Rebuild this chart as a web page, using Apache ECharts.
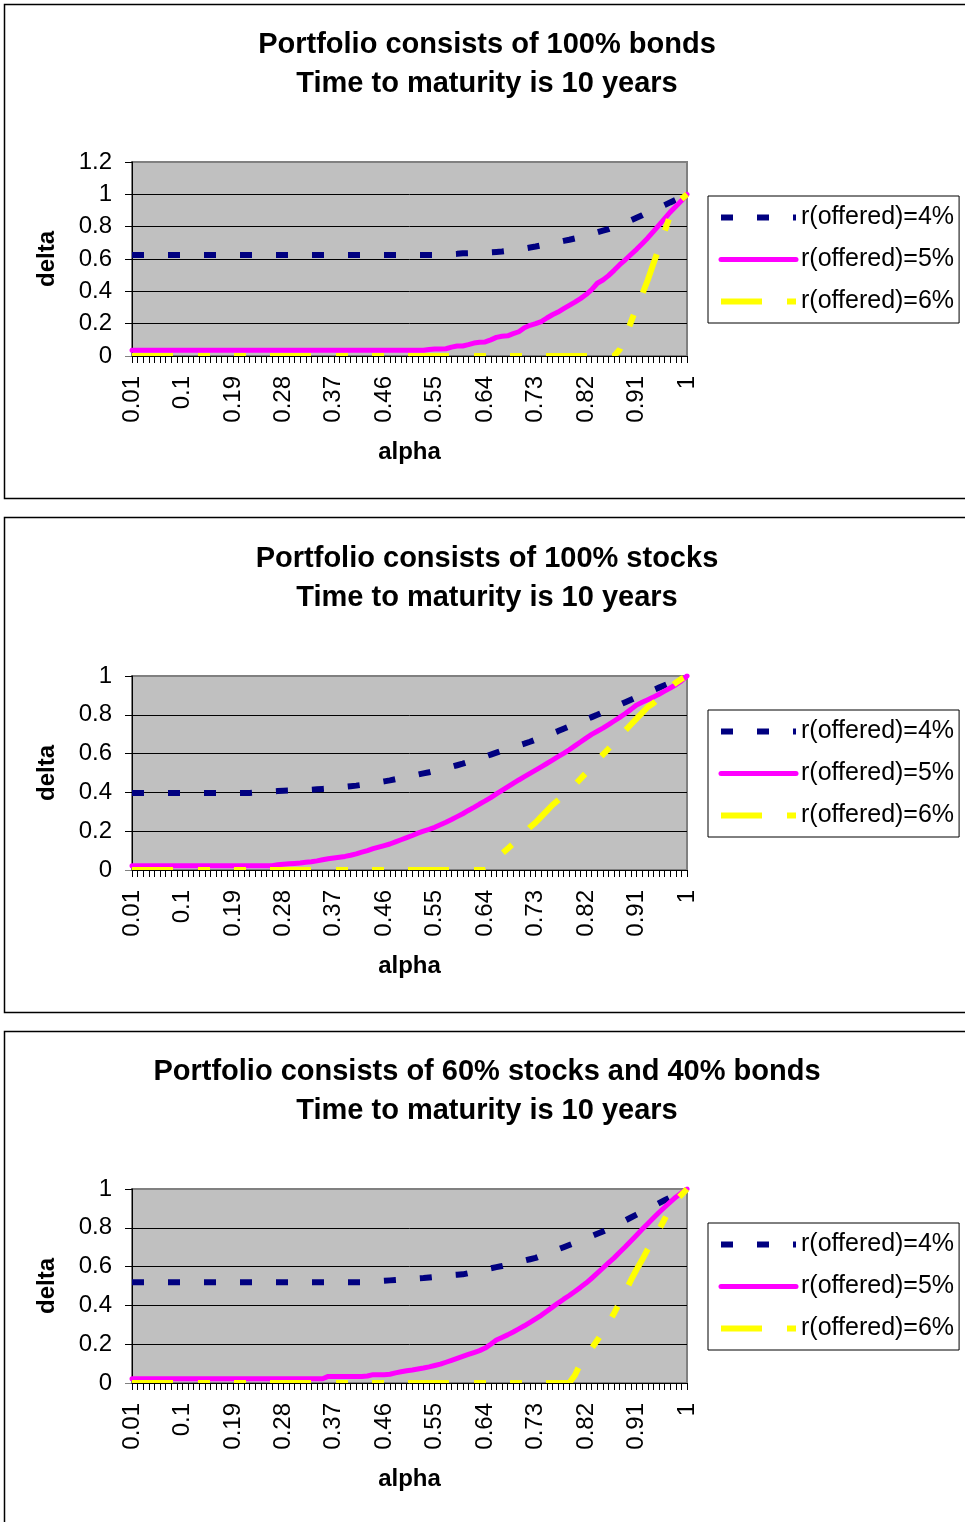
<!DOCTYPE html>
<html>
<head>
<meta charset="utf-8">
<script src="https://cdn.jsdelivr.net/npm/echarts@6/dist/echarts.min.js"></script>
<style>
html,body{margin:0;padding:0;background:#fff;}
#chart{width:965px;height:1522px;}
</style>
</head>
<body>
<div id="chart"></div>
<script>
// ---- categories (alpha) ----
const alpha = [
0.01,0.02,0.03,0.04,0.05,0.06,0.07,0.08,0.09,0.1,
0.11,0.12,0.13,0.14,0.15,0.16,0.17,0.18,0.19,0.2,
0.21,0.22,0.23,0.24,0.25,0.26,0.27,0.28,0.29,0.3,
0.31,0.32,0.33,0.34,0.35,0.36,0.37,0.38,0.39,0.4,
0.41,0.42,0.43,0.44,0.45,0.46,0.47,0.48,0.49,0.5,
0.51,0.52,0.53,0.54,0.55,0.56,0.57,0.58,0.59,0.6,
0.61,0.62,0.63,0.64,0.65,0.66,0.67,0.68,0.69,0.7,
0.71,0.72,0.73,0.74,0.75,0.76,0.77,0.78,0.79,0.8,
0.81,0.82,0.83,0.84,0.85,0.86,0.87,0.88,0.89,0.9,
0.91,0.92,0.93,0.94,0.95,0.96,0.97,0.98,0.99,1
];
const seriesNames = ['r(offered)=4%', 'r(offered)=5%', 'r(offered)=6%'];
const titles = [
  'Portfolio consists of 100% bonds\nTime to maturity is 10 years',
  'Portfolio consists of 100% stocks\nTime to maturity is 10 years',
  'Portfolio consists of 60% stocks and 40% bonds\nTime to maturity is 10 years'
];
const yMax = [1.2, 1, 1];

// ---- Panel 1: 100% bonds ----
const bonds4 = [
0.624,0.624,0.624,0.624,0.624,0.624,0.624,0.624,0.624,0.624,
0.624,0.624,0.624,0.624,0.624,0.624,0.624,0.624,0.624,0.624,
0.624,0.624,0.624,0.624,0.624,0.624,0.624,0.624,0.624,0.624,
0.624,0.624,0.624,0.624,0.624,0.624,0.624,0.624,0.624,0.624,
0.624,0.624,0.624,0.624,0.624,0.624,0.624,0.624,0.624,0.624,
0.624,0.624,0.624,0.624,0.624,0.626,0.628,0.630,0.632,0.635,
0.636,0.638,0.639,0.641,0.642,0.644,0.646,0.650,0.655,0.660,
0.665,0.671,0.677,0.684,0.691,0.698,0.705,0.712,0.719,0.727,
0.736,0.745,0.755,0.765,0.775,0.785,0.798,0.812,0.826,0.840,
0.855,0.870,0.886,0.901,0.917,0.933,0.950,0.966,0.983,1.000
];
const bonds5 = [
0.035,0.035,0.035,0.035,0.035,0.035,0.035,0.035,0.035,0.035,
0.035,0.035,0.035,0.035,0.035,0.035,0.035,0.035,0.035,0.035,
0.035,0.035,0.035,0.035,0.035,0.035,0.035,0.035,0.035,0.035,
0.035,0.035,0.035,0.035,0.035,0.035,0.035,0.035,0.035,0.035,
0.035,0.035,0.035,0.035,0.035,0.035,0.035,0.035,0.035,0.035,
0.035,0.035,0.035,0.040,0.043,0.043,0.045,0.055,0.062,0.062,
0.070,0.080,0.085,0.087,0.100,0.115,0.122,0.125,0.138,0.150,
0.175,0.190,0.200,0.213,0.235,0.255,0.272,0.293,0.313,0.333,
0.355,0.380,0.410,0.450,0.470,0.497,0.530,0.565,0.595,0.628,
0.660,0.695,0.730,0.770,0.810,0.850,0.890,0.925,0.960,1.000
];
const bonds6 = [
0,0,0,0,0,0,0,0,0,0,
0,0,0,0,0,0,0,0,0,0,
0,0,0,0,0,0,0,0,0,0,
0,0,0,0,0,0,0,0,0,0,
0,0,0,0,0,0,0,0,0,0,
0,0,0,0,0,0,0,0,0,0,
0,0,0,0,0,0,0,0,0,0,
0,0,0,0,0,0,0,0,0,0,
0,0,0,0,0,0,0,0.04,0.12,0.21,
0.30,0.38,0.47,0.57,0.67,0.77,0.87,0.93,0.97,1.00
];

// ---- Panel 2: 100% stocks ----
const stocks4 = [
0.397,0.397,0.397,0.397,0.397,0.397,0.397,0.397,0.397,0.397,
0.397,0.397,0.397,0.397,0.397,0.397,0.397,0.397,0.397,0.397,
0.397,0.397,0.399,0.401,0.403,0.405,0.407,0.409,0.410,0.411,
0.412,0.413,0.414,0.416,0.418,0.420,0.423,0.426,0.429,0.432,
0.435,0.439,0.443,0.447,0.452,0.457,0.462,0.468,0.474,0.480,
0.486,0.492,0.498,0.504,0.511,0.518,0.525,0.532,0.540,0.548,
0.557,0.566,0.575,0.585,0.595,0.605,0.615,0.624,0.633,0.642,
0.651,0.661,0.672,0.683,0.694,0.705,0.716,0.728,0.740,0.752,
0.764,0.776,0.788,0.800,0.813,0.826,0.839,0.852,0.865,0.878,
0.891,0.904,0.916,0.928,0.940,0.952,0.964,0.976,0.988,1.000
];
const stocks5 = [
0.022,0.022,0.022,0.022,0.022,0.022,0.022,0.022,0.022,0.022,
0.022,0.022,0.022,0.022,0.022,0.022,0.022,0.022,0.022,0.022,
0.022,0.022,0.022,0.022,0.022,0.022,0.027,0.030,0.032,0.034,
0.036,0.040,0.043,0.047,0.053,0.058,0.062,0.066,0.070,0.076,
0.083,0.092,0.100,0.110,0.118,0.126,0.134,0.145,0.156,0.167,
0.178,0.190,0.200,0.209,0.220,0.233,0.246,0.260,0.275,0.290,
0.307,0.323,0.340,0.356,0.373,0.392,0.410,0.428,0.446,0.464,
0.481,0.498,0.515,0.532,0.549,0.566,0.584,0.601,0.620,0.640,
0.660,0.680,0.699,0.715,0.731,0.749,0.768,0.787,0.807,0.828,
0.850,0.865,0.878,0.891,0.906,0.922,0.938,0.955,0.975,1.000
];
const stocks6 = [
0,0,0,0,0,0,0,0,0,0,
0,0,0,0,0,0,0,0,0,0,
0,0,0,0,0,0,0,0,0,0,
0,0,0,0,0,0,0,0,0,0,
0,0,0,0,0,0,0,0,0,0,
0,0,0,0,0,0,0,0,0,0,
0,0,0,0,0.03,0.06,0.085,0.11,0.135,0.165,
0.19,0.22,0.245,0.275,0.305,0.335,0.36,0.385,0.41,0.44,
0.47,0.50,0.535,0.565,0.595,0.625,0.655,0.69,0.72,0.75,
0.78,0.81,0.84,0.86,0.885,0.91,0.94,0.965,0.985,1.00
];

// ---- Panel 3: 60% stocks / 40% bonds ----
const mix4 = [
0.519,0.519,0.519,0.519,0.519,0.519,0.519,0.519,0.519,0.519,
0.519,0.519,0.519,0.519,0.519,0.519,0.519,0.519,0.519,0.519,
0.519,0.519,0.519,0.519,0.519,0.519,0.519,0.519,0.519,0.519,
0.519,0.519,0.519,0.519,0.519,0.519,0.519,0.519,0.519,0.519,
0.519,0.519,0.521,0.523,0.525,0.527,0.529,0.531,0.533,0.535,
0.537,0.539,0.541,0.544,0.547,0.550,0.553,0.556,0.558,0.560,
0.566,0.572,0.579,0.585,0.591,0.597,0.603,0.610,0.617,0.624,
0.631,0.638,0.645,0.656,0.667,0.678,0.689,0.700,0.711,0.722,
0.733,0.745,0.757,0.769,0.781,0.793,0.808,0.823,0.838,0.853,
0.868,0.883,0.897,0.912,0.927,0.942,0.957,0.973,0.987,1.000
];
const mix5 = [
0.022,0.022,0.022,0.022,0.022,0.022,0.022,0.022,0.022,0.022,
0.022,0.022,0.022,0.022,0.022,0.022,0.022,0.022,0.022,0.022,
0.022,0.022,0.022,0.022,0.022,0.022,0.022,0.022,0.022,0.022,
0.022,0.022,0.022,0.022,0.022,0.034,0.034,0.034,0.034,0.034,
0.034,0.034,0.036,0.043,0.043,0.043,0.045,0.052,0.058,0.063,
0.067,0.072,0.077,0.083,0.090,0.097,0.107,0.117,0.127,0.137,
0.147,0.157,0.167,0.180,0.200,0.222,0.235,0.248,0.263,0.279,
0.295,0.313,0.331,0.349,0.370,0.391,0.412,0.432,0.451,0.472,
0.493,0.515,0.540,0.566,0.593,0.619,0.645,0.674,0.702,0.732,
0.762,0.792,0.821,0.850,0.879,0.906,0.932,0.958,0.980,1.000
];
const mix6 = [
0,0,0,0,0,0,0,0,0,0,
0,0,0,0,0,0,0,0,0,0,
0,0,0,0,0,0,0,0,0,0,
0,0,0,0,0,0,0,0,0,0,
0,0,0,0,0,0,0,0,0,0,
0,0,0,0,0,0,0,0,0,0,
0,0,0,0,0,0,0,0,0,0,
0,0,0,0,0,0,0,0,0,0.04,
0.10,0.14,0.18,0.22,0.265,0.31,0.36,0.415,0.47,0.53,
0.585,0.635,0.69,0.74,0.79,0.845,0.90,0.94,0.97,1.00
];

const panelData = [[bonds4, bonds5, bonds6], [stocks4, stocks5, stocks6], [mix4, mix5, mix6]];

// ---- layout ----
const FONT = '"Liberation Sans", Arial, sans-serif';
const panelTop = [4.5, 517.5, 1031.5];
const panelH = [494, 495, 500];
const gridTop = [162, 676, 1189];
const gridH = 194;
const gridLeft = 132, gridRight = 687;
const legendTop = [196, 710, 1223];
const titleTop = [25, 539, 1052];
const titleCenterX = 487;

const seriesColors = ['#000080', '#FF00FF', '#FFFF00'];
const lineStyles = [
  {color: '#000080', width: 6, type: [12, 24], cap: 'butt'},
  {color: '#FF00FF', width: 5, type: 'solid', cap: 'round', join: 'round'},
  {color: '#FFFF00', width: 6, type: [41, 25, 12, 24, 12, 24], cap: 'butt'}
];

const catLabels = alpha.map(v => String(v));

const option = {
  animation: false,
  backgroundColor: '#ffffff',
  color: seriesColors,
  textStyle: {fontFamily: FONT},
  title: [], grid: [], xAxis: [], yAxis: [], legend: [], series: [], graphic: []
};

for (let p = 0; p < 3; p++) {
  option.title.push({
    text: titles[p], left: titleCenterX, top: titleTop[p], padding: 0, textAlign: 'center',
    textStyle: {fontFamily: FONT, fontSize: 29, fontWeight: 'bold', color: '#000', lineHeight: 39}
  });
  option.grid.push({
    left: gridLeft, top: gridTop[p], width: gridRight - gridLeft, height: gridH,
    show: true, backgroundColor: '#C0C0C0', borderColor: '#808080', borderWidth: 2, containLabel: false
  });
  option.xAxis.push({
    gridIndex: p, type: 'category', data: catLabels, boundaryGap: false, z: 10,
    axisLine: {show: true, lineStyle: {color: '#000', width: 1}},
    axisTick: {show: true, interval: 0, length: 7, lineStyle: {color: '#000', width: 1}},
    axisLabel: {interval: 8, rotate: 90, fontSize: 24, color: '#000', margin: 20, fontFamily: FONT, hideOverlap: false},
    splitLine: {show: false},
    name: 'alpha', nameLocation: 'middle', nameGap: 84,
    nameTextStyle: {fontSize: 24, fontWeight: 'bold', color: '#000', fontFamily: FONT}
  });
  option.yAxis.push({
    gridIndex: p, type: 'value', min: 0, max: yMax[p], interval: 0.2,
    axisLine: {show: true, lineStyle: {color: '#000', width: 1}},
    axisTick: {show: true, length: 7, lineStyle: {color: '#000', width: 1}},
    axisLabel: {fontSize: 24, color: '#000', margin: 20, fontFamily: FONT},
    splitLine: {show: true, showMaxLine: false, lineStyle: {color: '#000', width: 1}},
    name: 'delta', nameLocation: 'middle', nameGap: 73,
    nameTextStyle: {fontSize: 24, fontWeight: 'bold', color: '#000', fontFamily: FONT}
  });
  option.legend.push({
    orient: 'vertical', left: 708, top: legendTop[p],
    itemWidth: 75, itemHeight: 14, itemGap: 17,
    padding: [9, 5, 9, 10],
    borderColor: '#000', borderWidth: 1, backgroundColor: '#fff',
    textStyle: {fontSize: 25, color: '#000', fontFamily: FONT, lineHeight: 24},
    lineStyle: {width: 'inherit'},
    itemStyle: {opacity: 0},
    selectedMode: false,
    data: seriesNames
  });
  for (let s = 0; s < 3; s++) {
    option.series.push({
      name: seriesNames[s], type: 'line', xAxisIndex: p, yAxisIndex: p,
      data: panelData[p][s], symbol: 'none', showSymbol: false, smooth: false,
      color: seriesColors[s],
      itemStyle: {color: seriesColors[s]},
      lineStyle: lineStyles[s], z: 2
    });
  }
  // panel border
  option.graphic.push({
    type: 'rect', z: 0, silent: true,
    shape: {x: 4.5, y: panelTop[p], width: 980, height: panelH[p]},
    style: {fill: 'none', stroke: '#000', lineWidth: 1.5}
  });
  // white mask below the x axis so thick lines do not spill under the axis
  option.graphic.push({
    type: 'rect', z: 5, silent: true,
    shape: {x: 120, y: gridTop[p] + gridH + 0.5, width: 580, height: 5},
    style: {fill: '#fff'}
  });
}

const chart = echarts.init(document.getElementById('chart'), null, {renderer: 'canvas'});
chart.setOption(option);
</script>
</body>
</html>
